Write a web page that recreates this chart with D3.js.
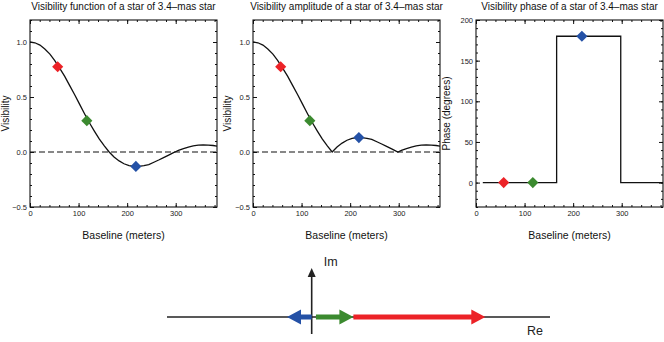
<!DOCTYPE html>
<html lang="en">
<head>
<meta charset="utf-8">
<title>Visibility of a 3.4-mas star</title>
<script src="https://d3js.org/d3.v7.min.js"></script>
<style>
  body { margin: 0; background: #fff; }
  svg text { font-family: "Liberation Sans", Arial, Helvetica, sans-serif; }
</style>
</head>
<body>
<svg id="chart" width="664" height="342"></svg>
<script>
// baseline samples (m) and visibility
var baseline = [0, 10, 20.5, 30.5, 41, 51, 61, 71.5, 81.5, 92,
                102, 112, 122, 132.5, 142.5, 153, 163, 173, 183.5, 193.5,
                204, 214, 224, 234.5, 244.5, 255, 265, 275, 285.5, 295.5,
                298.5, 305.5, 316, 326, 336, 346.5, 356.5, 367, 377, 387.5];
var visibility = [1, 0.993, 0.972, 0.937, 0.890, 0.831, 0.763, 0.688, 0.606, 0.521,
                  0.435, 0.350, 0.268, 0.190, 0.119, 0.055, 0, -0.046, -0.081, -0.107,
                  -0.124, -0.131, -0.131, -0.124, -0.115, -0.093, -0.073, -0.051, -0.028, -0.006,
                  0, 0.014, 0.031, 0.045, 0.056, 0.062, 0.064, 0.063, 0.059, 0.051];
var amplitude = [1, 0.993, 0.972, 0.937, 0.890, 0.831, 0.763, 0.688, 0.606, 0.521,
                 0.435, 0.350, 0.268, 0.190, 0.119, 0.055, 0, 0.046, 0.081, 0.107,
                 0.124, 0.131, 0.131, 0.124, 0.115, 0.093, 0.073, 0.051, 0.028, 0.006,
                 0, 0.014, 0.031, 0.045, 0.056, 0.062, 0.064, 0.063, 0.059, 0.051];

// phase step curve
var phaseBaseline = [14, 166, 166, 298, 298, 390];
var phaseDeg = [0, 0, 180, 180, 0, 0];

// the three sampled baselines
var markerBaseline = [57, 117, 218];
var markerVis = [0.775, 0.285, -0.131];
var markerAmp = [0.775, 0.285, 0.131];
var markerPhase = [0, 0, 180];
var markerColors = ["#ec2227", "#3b8a2f", "#2451a6"];

// phasor diagram (Re axis units)
var arrowStart = [0, 0.025, 0.245];
var arrowEnd = [-0.145, 0.245, 1.02];
var arrowColors = ["#2451a6", "#3b8a2f", "#ec2227"];

var xTicks = [0, 100, 200, 300];
var visTicks = [-0.5, 0, 0.5, 1.0];
var phaseTicks = [0, 50, 100, 150, 200];

var svg = d3.select("#chart");
var top0 = 20, pw = 187, ph = 187;
var lefts = [30, 253, 476];

function drawPanel(left, opts) {
  var x = d3.scaleLinear().domain([0, 385]).range([left, left + pw]);
  var y = d3.scaleLinear().domain(opts.yDomain).range([top0 + ph, top0]);
  var g = svg.append("g");

  // title
  g.append("text")
    .attr("x", left + pw / 2).attr("y", 10)
    .attr("text-anchor", "middle")
    .attr("font-size", "10px").attr("fill", "#111")
    .text(opts.title);

  // clip to plot area
  var cid = "clip" + left;
  svg.append("clipPath").attr("id", cid)
    .append("rect").attr("x", left).attr("y", top0).attr("width", pw).attr("height", ph);
  var inner = g.append("g").attr("clip-path", "url(#" + cid + ")");

  if (opts.zeroLine) {
    inner.append("line")
      .attr("x1", x(0)).attr("x2", x(385))
      .attr("y1", y(0)).attr("y2", y(0))
      .attr("stroke", "#111").attr("stroke-width", 1.2)
      .attr("stroke-dasharray", "6,3");
  }

  var line = d3.line()
    .x(function(d) { return x(d[0]); })
    .y(function(d) { return y(d[1]); });
  inner.append("path")
    .datum(d3.zip(opts.xs, opts.ys))
    .attr("d", line)
    .attr("fill", "none").attr("stroke", "#111").attr("stroke-width", 1.3);

  // diamond markers
  var sym = d3.symbol().type(d3.symbolSquare).size(62);
  inner.selectAll("path.mk")
    .data(d3.zip(markerBaseline, opts.marks, markerColors))
    .enter().append("path")
    .attr("class", "mk")
    .attr("d", sym)
    .attr("transform", function(d) { return "translate(" + x(d[0]) + "," + y(d[1]) + ") rotate(45)"; })
    .attr("fill", function(d) { return d[2]; });

  // axes with inside ticks on all sides
  var minorX = d3.range(0, 386, 20);
  var minorY = opts.minorY;
  function addAxis(axis, tr) {
    var a = g.append("g").attr("transform", tr).call(axis);
    a.select(".domain").remove();
    a.selectAll("line").attr("stroke", "#111");
    a.selectAll("text").attr("font-size", "7.5px").attr("fill", "#222")
      .attr("font-family", "Liberation Sans, Arial, sans-serif");
    return a;
  }
  var fmt = opts.fmt;
  addAxis(d3.axisBottom(x).tickValues(xTicks).tickSize(-4).tickPadding(4), "translate(0," + (top0 + ph) + ")");
  addAxis(d3.axisBottom(x).tickValues(minorX).tickSize(-2).tickFormat(""), "translate(0," + (top0 + ph) + ")");
  addAxis(d3.axisTop(x).tickValues(xTicks).tickSize(-4).tickFormat(""), "translate(0," + top0 + ")");
  addAxis(d3.axisTop(x).tickValues(minorX).tickSize(-2).tickFormat(""), "translate(0," + top0 + ")");
  addAxis(d3.axisLeft(y).tickValues(opts.yTicks).tickSize(-4).tickPadding(3).tickFormat(fmt), "translate(" + left + ",0)");
  addAxis(d3.axisLeft(y).tickValues(minorY).tickSize(-2).tickFormat(""), "translate(" + left + ",0)");
  addAxis(d3.axisRight(y).tickValues(opts.yTicks).tickSize(-4).tickFormat(""), "translate(" + (left + pw) + ",0)");
  addAxis(d3.axisRight(y).tickValues(minorY).tickSize(-2).tickFormat(""), "translate(" + (left + pw) + ",0)");

  // frame
  g.append("rect")
    .attr("x", left).attr("y", top0).attr("width", pw).attr("height", ph)
    .attr("fill", "none").attr("stroke", "#111").attr("stroke-width", 1.1);

  // axis labels
  g.append("text")
    .attr("x", left + pw / 2).attr("y", 239)
    .attr("text-anchor", "middle")
    .attr("font-size", "10.5px").attr("fill", "#111")
    .text("Baseline (meters)");
  g.append("text")
    .attr("transform", "translate(" + (left - opts.ylabelOff) + "," + (top0 + ph / 2) + ") rotate(-90)")
    .attr("text-anchor", "middle")
    .attr("font-size", "10px").attr("fill", "#111")
    .text(opts.ylabel);
}

var visMinor = d3.range(-5, 13).map(function(i) { return i / 10; });
var phMinor = d3.range(-3, 21).map(function(i) { return i * 10; });

drawPanel(lefts[0], {
  title: "Visibility function of a star of 3.4\u2013mas star",
  ylabel: "Visibility", ylabelOff: 21, yDomain: [-0.5, 1.2], yTicks: visTicks, minorY: visMinor,
  fmt: d3.format(".1f"), xs: baseline, ys: visibility, marks: markerVis, zeroLine: true
});
drawPanel(lefts[1], {
  title: "Visibility amplitude of a star of 3.4\u2013mas star",
  ylabel: "Visibility", ylabelOff: 22, yDomain: [-0.5, 1.2], yTicks: visTicks, minorY: visMinor,
  fmt: d3.format(".1f"), xs: baseline, ys: amplitude, marks: markerAmp, zeroLine: true
});
drawPanel(lefts[2], {
  title: "Visibility phase of a star of 3.4\u2013mas star",
  ylabel: "Phase (degrees)", ylabelOff: 26, yDomain: [-30, 200], yTicks: phaseTicks, minorY: phMinor,
  fmt: d3.format("d"), xs: phaseBaseline, ys: phaseDeg, marks: markerPhase, zeroLine: false
});

// phasor diagram
var re = d3.scaleLinear().domain([-0.85, 1.4]).range([167, 550]);
var yRe = 317;
var pg = svg.append("g");
pg.append("line")
  .attr("x1", re(-0.85)).attr("x2", re(1.4))
  .attr("y1", yRe).attr("y2", yRe)
  .attr("stroke", "#222").attr("stroke-width", 1.6);
pg.append("line")
  .attr("x1", re(0)).attr("x2", re(0))
  .attr("y1", 334).attr("y2", 276)
  .attr("stroke", "#222").attr("stroke-width", 1.6);
pg.append("path")
  .attr("d", "M" + (re(0) - 4) + ",277 L" + re(0) + ",268 L" + (re(0) + 4) + ",277 Z")
  .attr("fill", "#222");
pg.append("text").attr("x", re(0) + 12).attr("y", 266)
  .attr("font-size", "12.5px").attr("fill", "#222").text("Im");
pg.append("text").attr("x", 527).attr("y", 335)
  .attr("font-size", "12.5px").attr("fill", "#222").text("Re");

function arrowPath(d) {
  var x0 = re(d[0]), x1 = re(d[1]);
  var s = x1 > x0 ? 1 : -1;
  var t = 2.5, hl = 14, hw = 7.5;
  var xb = x1 - s * hl;
  return "M" + x0 + "," + (yRe - t) + " L" + xb + "," + (yRe - t) +
    " L" + xb + "," + (yRe - hw) + " L" + x1 + "," + yRe +
    " L" + xb + "," + (yRe + hw) + " L" + xb + "," + (yRe + t) +
    " L" + x0 + "," + (yRe + t) + " Z";
}
pg.selectAll("path.arrow")
  .data(d3.zip(arrowStart, arrowEnd, arrowColors))
  .enter().append("path")
  .attr("class", "arrow")
  .attr("d", arrowPath)
  .attr("fill", function(d) { return d[2]; });
</script>
</body>
</html>
